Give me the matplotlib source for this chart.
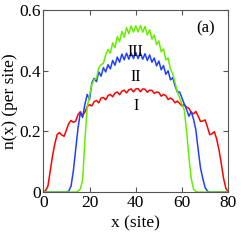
import numpy as np
import matplotlib
matplotlib.use("Agg")
import matplotlib.pyplot as plt

plt.rcParams['font.family'] = ['Liberation Serif', 'DejaVu Serif']

# site index
sites = list(range(0, 81))

# curve I (red)
n_I = [0.0, 0.005, 0.02, 0.07, 0.12, 0.16, 0.19, 0.196, 0.188, 0.184,
       0.205, 0.226, 0.236, 0.23, 0.234, 0.255, 0.265, 0.252, 0.264, 0.282,
       0.288, 0.284, 0.298, 0.302, 0.294, 0.31, 0.312, 0.304, 0.318, 0.322,
       0.314, 0.326, 0.33, 0.321, 0.332, 0.336, 0.327, 0.337, 0.34, 0.33,
       0.34, 0.341, 0.331, 0.34, 0.339, 0.329, 0.336, 0.335, 0.325, 0.33,
       0.328, 0.316, 0.322, 0.318, 0.305, 0.31, 0.305, 0.294, 0.3, 0.292,
       0.284, 0.288, 0.28, 0.276, 0.262, 0.258, 0.266, 0.25, 0.233, 0.234,
       0.238, 0.215, 0.189, 0.192, 0.199, 0.175, 0.14, 0.094, 0.045, 0.012,
       0.0]

# curve II (blue)
n_II = [0.0, 0.0, 0.0, 0.0, 0.0, 0.0, 0.0, 0.0, 0.0, 0.0,
        0.0, 0.003, 0.02, 0.07, 0.14, 0.21, 0.262, 0.246, 0.29, 0.322,
        0.305, 0.36, 0.375, 0.364, 0.396, 0.382, 0.41, 0.396, 0.42, 0.406,
        0.434, 0.418, 0.445, 0.428, 0.455, 0.436, 0.458, 0.438, 0.458, 0.44,
        0.46, 0.44, 0.458, 0.438, 0.456, 0.434, 0.452, 0.428, 0.442, 0.416,
        0.432, 0.403, 0.417, 0.388, 0.4, 0.37, 0.377, 0.35, 0.33, 0.33,
        0.31, 0.29, 0.272, 0.25, 0.265, 0.24, 0.205, 0.14, 0.08, 0.045,
        0.015, 0.003, 0.0, 0.0, 0.0, 0.0, 0.0, 0.0, 0.0, 0.0,
        0.0]

# curve III (green)
n_III = [0.0, 0.0, 0.0, 0.0, 0.0, 0.0, 0.0, 0.0, 0.0, 0.0,
         0.0, 0.0, 0.0, 0.0, 0.0, 0.003, 0.01, 0.04, 0.17, 0.28,
         0.32, 0.355, 0.37, 0.375, 0.41, 0.42, 0.425, 0.452, 0.47, 0.458,
         0.492, 0.476, 0.512, 0.496, 0.53, 0.51, 0.542, 0.522, 0.548, 0.527,
         0.548, 0.528, 0.549, 0.527, 0.546, 0.518, 0.535, 0.504, 0.518, 0.486,
         0.498, 0.462, 0.472, 0.436, 0.442, 0.405, 0.39, 0.36, 0.33, 0.31,
         0.29, 0.27, 0.2, 0.115, 0.045, 0.01, 0.002, 0.0, 0.0, 0.0,
         0.0, 0.0, 0.0, 0.0, 0.0, 0.0, 0.0, 0.0, 0.0, 0.0,
         0.0]

fig = plt.figure(figsize=(2.42, 2.45), dpi=100)
ax = fig.add_axes([0.179, 0.216, 0.764, 0.743])

ax.plot(sites, n_I, color='#ff0000', lw=1.1)
ax.plot(sites, n_II, color='#2040ff', lw=1.1)
ax.plot(sites, n_III, color='#66ee00', lw=1.1)

ax.set_xlim(0, 80)
ax.set_ylim(0, 0.6)
ax.set_xticks([0, 20, 40, 60, 80])
ax.set_xticklabels(['0', '20', '40', '60', '80'])
ax.set_yticks([0, 0.2, 0.4, 0.6])
ax.set_yticklabels(['0', '0.2', '0.4', '0.6'])
ax.tick_params(direction='in', top=True, right=True, length=3.5,
               labelsize=12.5, color='#555555', pad=2)
for s in ax.spines.values():
    s.set_color('#555555')
    s.set_linewidth(0.8)

ax.set_xlabel('x (site)', fontsize=12.5, labelpad=3)
ax.set_ylabel('n(x) (per site)', fontsize=12.5, labelpad=1)

ax.text(40, 0.284, 'I', fontsize=11.5, ha='center', va='center')
ax.text(40, 0.38, 'II', fontsize=11.5, ha='center', va='center')
ax.text(40, 0.462, 'III', fontsize=11.5, ha='center', va='center')
ax.text(70, 0.54, '(a)', fontsize=12, ha='center', va='center')

fig.savefig('out.png', dpi=100)
